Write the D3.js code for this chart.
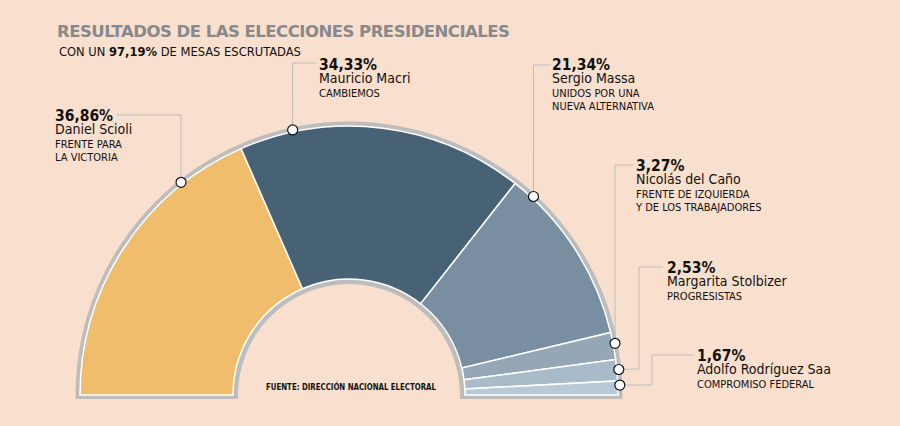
<!DOCTYPE html>
<html>
<head>
<meta charset="utf-8">
<script src="https://cdn.jsdelivr.net/npm/d3@7"></script>
<style>
  html, body { margin: 0; padding: 0; background: #f9dfcd; }
  svg { display: block; }
  text { font-family: "DejaVu Sans Condensed", "DejaVu Sans", sans-serif; fill: #111; }
</style>
</head>
<body>
<div id="chart"></div>
<script>
// Data
const candidates = ["Daniel Scioli", "Mauricio Macri", "Sergio Massa", "Nicolás del Caño", "Margarita Stolbizer", "Adolfo Rodríguez Saa"];
const percents = [36.86, 34.33, 21.34, 3.27, 2.53, 1.67];
const percentLabels = ["36,86%", "34,33%", "21,34%", "3,27%", "2,53%", "1,67%"];
const parties = [
  ["FRENTE PARA", "LA VICTORIA"],
  ["CAMBIEMOS"],
  ["UNIDOS POR UNA", "NUEVA ALTERNATIVA"],
  ["FRENTE DE IZQUIERDA", "Y DE LOS TRABAJADORES"],
  ["PROGRESISTAS"],
  ["COMPROMISO FEDERAL"]
];
const colors = ["#f0bd6c", "#486275", "#7a8ea1", "#95a7b6", "#a9bbc9", "#b9c9d5"];

// Layout of the callouts, separate from the data
const labelX = [55, 319, 552, 636, 667, 697];
const labelY = [121, 70, 70, 171, 273, 361];
const dotAngle = [-38.3, -12, 42.9, 79.0, 84.6, 87.9]; // degrees from the top of the arc
const leaders = [
  [[181, 115], [117, 115]],
  [[292.5, 63], [316, 63]],
  [[533.5, 65], [551, 65]],
  [[615, 165], [633, 165]],
  [[639, 369], [639, 267], [663, 267]],
  [[652, 385], [652, 355], [694, 355]]
];

const width = 900, height = 426;
const cx = 349, cy = 395, rOuter = 269, rInner = 116, ringOut = 4.5, ringIn = 5, rDot = 271;

const svg = d3.select("#chart").append("svg")
  .attr("width", width)
  .attr("height", height)
  .attr("viewBox", [0, 0, width, height]);

svg.append("rect").attr("width", width).attr("height", height).attr("fill", "#f9dfcd");

// Title
svg.append("text")
  .attr("x", 57).attr("y", 37)
  .attr("font-size", 16.5).attr("font-weight", "bold")
  .style("font-family", "'DejaVu Sans', sans-serif")
  .style("fill", "#87898c")
  .attr("textLength", 453).attr("lengthAdjust", "spacing")
  .text("RESULTADOS DE LAS ELECCIONES PRESIDENCIALES");

const sub = svg.append("text").attr("x", 59).attr("y", 56).attr("font-size", 12.8);
sub.append("tspan").text("CON UN ");
sub.append("tspan").attr("font-weight", "bold").text("97,19%");
sub.append("tspan").text(" DE MESAS ESCRUTADAS");

const chart = svg.append("g").attr("transform", `translate(${cx},${cy})`);

// Gray band around the half ring
const rHole = rInner - ringIn;
const band = d3.arc()
  .innerRadius(rHole)
  .outerRadius(rOuter + ringOut)
  .startAngle(-Math.PI / 2)
  .endAngle(Math.PI / 2);
chart.append("path").attr("d", band()).attr("fill", "#bdbdbd");
[-1, 1].forEach(side => {
  chart.append("rect")
    .attr("x", side < 0 ? -(rOuter + ringOut) : rHole)
    .attr("y", 0)
    .attr("width", rOuter + ringOut - rHole)
    .attr("height", 4)
    .attr("fill", "#bdbdbd");
});

// Slices
const pie = d3.pie().sort(null).startAngle(-Math.PI / 2).endAngle(Math.PI / 2);
const arc = d3.arc().innerRadius(rInner).outerRadius(rOuter);
chart.selectAll(".slice")
  .data(pie(percents))
  .join("path")
  .attr("class", "slice")
  .attr("d", arc)
  .attr("fill", (d, i) => colors[i])
  .attr("stroke", "#fff")
  .attr("stroke-width", 1.5);

// Leaders and dots
const dotPoint = a => {
  const t = a * Math.PI / 180;
  return [cx + rDot * Math.sin(t), cy - rDot * Math.cos(t)];
};
const line = d3.line();
svg.selectAll(".leader")
  .data(leaders)
  .join("path")
  .attr("class", "leader")
  .attr("d", (d, i) => line([dotPoint(dotAngle[i]), ...d]))
  .attr("fill", "none")
  .attr("stroke", "#bdbdbd")
  .attr("stroke-width", 1);
svg.selectAll(".dot")
  .data(dotAngle)
  .join("circle")
  .attr("class", "dot")
  .attr("cx", d => dotPoint(d)[0])
  .attr("cy", d => dotPoint(d)[1])
  .attr("r", 5)
  .attr("fill", "#fff")
  .attr("stroke", "#111")
  .attr("stroke-width", 1.2);

// Callout labels
const labels = svg.selectAll(".label")
  .data(candidates)
  .join("g")
  .attr("class", "label")
  .attr("transform", (d, i) => `translate(${labelX[i]},${labelY[i]})`);
labels.append("text")
  .attr("font-size", 15.5).attr("font-weight", "bold")
  .text((d, i) => percentLabels[i]);
labels.append("text")
  .attr("y", 13).attr("font-size", 14)
  .text(d => d);
labels.each(function(d, i) {
  d3.select(this).selectAll(".party")
    .data(parties[i])
    .join("text")
    .attr("class", "party")
    .attr("y", (p, j) => 27 + j * 13)
    .attr("font-size", 11)
    .text(p => p);
});

// Source
svg.append("text")
  .attr("x", 266).attr("y", 390)
  .attr("font-size", 9).attr("font-weight", "bold")
  .attr("textLength", 170).attr("lengthAdjust", "spacingAndGlyphs")
  .text("FUENTE: DIRECCIÓN NACIONAL ELECTORAL");
</script>
</body>
</html>
